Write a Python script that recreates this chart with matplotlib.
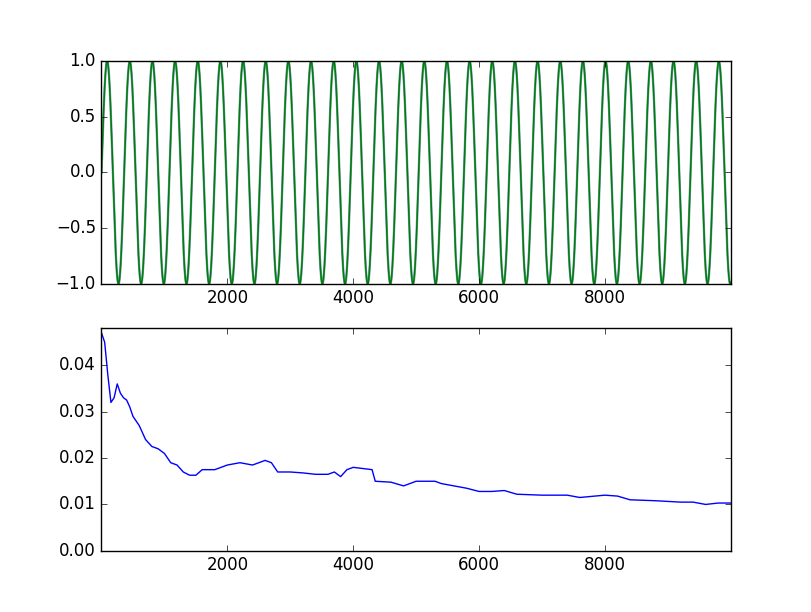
import numpy as np
import matplotlib
matplotlib.use('Agg')
import matplotlib.pyplot as plt

plt.style.use('classic')

# Top panel: sine signal (period read as 360 samples) and its estimate
n_samples = 10000
period = 360.0

# Bottom panel: error curve
err_x = [0, 50, 100, 150, 200, 250, 300, 350, 400, 450, 500, 600, 700, 800, 900,
         1000, 1100, 1200, 1300, 1400, 1500, 1600, 1800, 1900, 2000, 2200, 2400,
         2600, 2700, 2800, 3000, 3200, 3400, 3600, 3700, 3800, 3900, 4000, 4300,
         4350, 4600, 4800, 5000, 5300, 5400, 5600, 5800, 6000, 6200, 6400, 6600,
         7000, 7400, 7600, 8000, 8200, 8400, 8800, 9200, 9400, 9600, 9800, 9999]
err_y = [0.047, 0.045, 0.038, 0.032, 0.033, 0.036, 0.034, 0.033, 0.0325, 0.031,
         0.029, 0.027, 0.024, 0.0225, 0.022, 0.021, 0.019, 0.0185, 0.017, 0.0163,
         0.0163, 0.0175, 0.0175, 0.018, 0.0185, 0.019, 0.0185, 0.0195, 0.019,
         0.017, 0.017, 0.0168, 0.0165, 0.0165, 0.017, 0.016, 0.0175, 0.018,
         0.0175, 0.015, 0.0148, 0.014, 0.015, 0.015, 0.0145, 0.014, 0.0135,
         0.0128, 0.0128, 0.013, 0.0122, 0.012, 0.012, 0.0115, 0.012, 0.0118,
         0.011, 0.0108, 0.0105, 0.0105, 0.01, 0.0103, 0.0103]

t = np.arange(n_samples)
signal = np.sin(2 * np.pi * t / period)

fig, axs = plt.subplots(2, 1, figsize=(8.12, 6.12), dpi=100)

axs[0].plot(t, signal, color='#7f9cc8', linewidth=1.7)
axs[0].plot(t, signal, color='g', linewidth=1.1)
axs[0].set_xlim(0, n_samples)
axs[0].set_ylim(-1, 1)
axs[0].set_xticks([2000, 4000, 6000, 8000])

axs[1].plot(err_x, err_y, color='b')
axs[1].set_xlim(0, n_samples)
axs[1].set_ylim(0, 0.048)
axs[1].set_xticks([2000, 4000, 6000, 8000])
axs[1].set_yticks([0.0, 0.01, 0.02, 0.03, 0.04])

fig.savefig('out.png')
